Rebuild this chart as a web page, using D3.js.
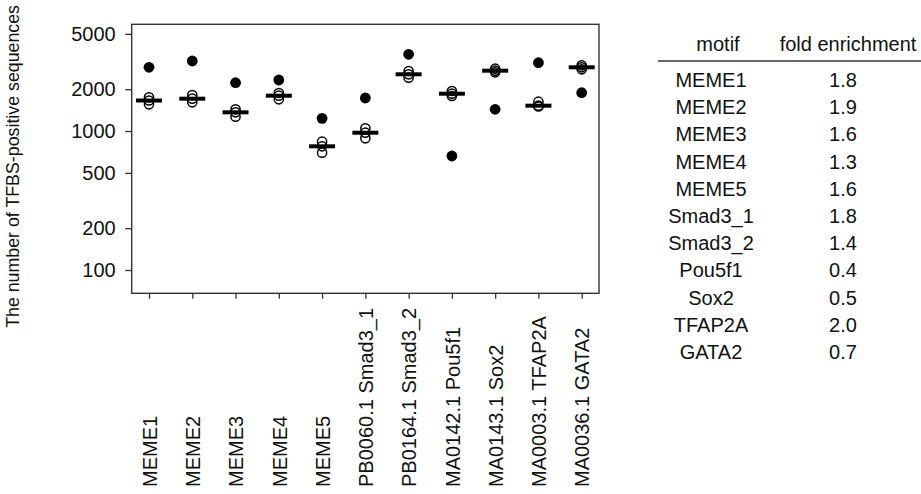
<!DOCTYPE html>
<html lang="en">
<head>
    <meta charset="UTF-8">
    <title>TFBS-positive sequences</title>
    <script src="https://d3js.org/d3.v7.min.js"></script>
    <style>
        html, body{
            margin:0;
            background:#fff;
        }
        text{
            font-family: Arial, "Liberation Sans", sans-serif;
            fill:#111;
        }
    </style>
</head>
<body>
<div id="chart"></div>

<script>
    // axis categories and short names used in the table
    var motifs = ["MEME1", "MEME2", "MEME3", "MEME4", "MEME5",
        "PB0060.1 Smad3_1", "PB0164.1 Smad3_2", "MA0142.1 Pou5f1",
        "MA0143.1 Sox2", "MA0003.1 TFAP2A", "MA0036.1 GATA2"];
    var shortNames = ["MEME1", "MEME2", "MEME3", "MEME4", "MEME5",
        "Smad3_1", "Smad3_2", "Pou5f1", "Sox2", "TFAP2A", "GATA2"];

    // filled dots: observed counts
    var observed = [2873, 3189, 2226, 2327, 1234, 1728, 3563, 661, 1433, 3100, 1886];
    // open circles: control counts (3 per motif)
    var controls = [
        [1748, 1657, 1556],
        [1816, 1708, 1609],
        [1433, 1363, 1267],
        [1877, 1795, 1691],
        [838, 776, 698],
        [1046, 972, 886],
        [2702, 2558, 2418],
        [1940, 1855, 1785],
        [2808, 2716, 2644],
        [1625, 1521, 1501],
        [2970, 2873, 2779]
    ];
    var foldEnrichment = ["1.8", "1.9", "1.6", "1.3", "1.6", "1.8", "1.4", "0.4", "0.5", "2.0", "0.7"];
    var yTicks = [100, 200, 500, 1000, 2000, 5000];

    var W = 921, H = 494;
    var plot = {left: 131.7, top: 24.3, width: 467.3, height: 269};
    var fontSize = "20px";

    var svg = d3.select("#chart").append("svg")
        .attr("width", W)
        .attr("height", H);

    var xScale = d3.scaleLinear()
        .domain([0.6, 11.4])
        .range([plot.left, plot.left + plot.width]);

    var yScale = d3.scaleLog()
        .domain([68, 5856])
        .range([plot.top + plot.height, plot.top]);

    // y axis
    var yAxis = svg.append("g")
        .attr("transform", "translate(" + plot.left + ",0)")
        .call(d3.axisLeft(yScale).tickValues(yTicks).tickFormat(d3.format("d")).tickSize(6.5).tickPadding(9.5));
    yAxis.select(".domain").remove();

    // x axis
    var xAxis = svg.append("g")
        .attr("transform", "translate(0," + (plot.top + plot.height) + ")")
        .call(d3.axisBottom(xScale).tickValues(d3.range(1, 12)).tickFormat("").tickSize(5.5));
    xAxis.select(".domain").remove();

    svg.selectAll(".tick line").attr("stroke", "#333").attr("stroke-width", 1.3);
    yAxis.selectAll("text").style("font-size", fontSize).attr("fill", "#111");

    // frame
    svg.append("rect")
        .attr("x", plot.left)
        .attr("y", plot.top)
        .attr("width", plot.width)
        .attr("height", plot.height)
        .attr("fill", "none")
        .attr("stroke", "#333")
        .attr("stroke-width", 1.4);

    // rotated category labels, aligned at the bottom
    svg.selectAll(".xlab")
        .data(motifs)
        .enter().append("text")
        .attr("class", "xlab")
        .attr("transform", function(d, i) { return "translate(" + (xScale(i + 1) + 0.5) + ",487) rotate(-90)"; })
        .attr("dy", "0.36em")
        .style("font-size", fontSize)
        .text(function(d) { return d; });

    // y title
    svg.append("text")
        .attr("transform", "translate(19,5) rotate(-90)")
        .attr("text-anchor", "end")
        .style("font-size", "17.8px")
        .text("The number of TFBS-positive sequences");

    // control circles
    var ctrlPts = [];
    controls.forEach(function(arr, i) {
        arr.forEach(function(v) { ctrlPts.push({i: i, v: v}); });
    });
    svg.selectAll(".ctrl")
        .data(ctrlPts)
        .enter().append("circle")
        .attr("class", "ctrl")
        .attr("cx", function(d) { return xScale(d.i + 1); })
        .attr("cy", function(d) { return yScale(d.v); })
        .attr("r", 4.6)
        .attr("fill", "none")
        .attr("stroke", "#000")
        .attr("stroke-width", 1.5);

    // median bars
    svg.selectAll(".med")
        .data(controls)
        .enter().append("line")
        .attr("class", "med")
        .attr("x1", function(d, i) { return xScale(i + 1) - 13; })
        .attr("x2", function(d, i) { return xScale(i + 1) + 13; })
        .attr("y1", function(d) { return yScale(d3.median(d)); })
        .attr("y2", function(d) { return yScale(d3.median(d)); })
        .attr("stroke", "#000")
        .attr("stroke-width", 4);

    // observed dots
    svg.selectAll(".obs")
        .data(observed)
        .enter().append("circle")
        .attr("class", "obs")
        .attr("cx", function(d, i) { return xScale(i + 1); })
        .attr("cy", function(d) { return yScale(d); })
        .attr("r", 5.4)
        .attr("fill", "#000");

    // table
    var colMotif = 711, colFold = 843, rowTop = 87, rowStep = 27.2;
    svg.append("text").attr("x", 718).attr("y", 51).attr("text-anchor", "middle")
        .style("font-size", fontSize).text("motif");
    svg.append("text").attr("x", 848).attr("y", 51).attr("text-anchor", "middle")
        .style("font-size", fontSize).text("fold enrichment");
    svg.append("line")
        .attr("x1", 658).attr("x2", 921)
        .attr("y1", 61).attr("y2", 61)
        .attr("stroke", "#333").attr("stroke-width", 1.3);

    svg.selectAll(".tname")
        .data(shortNames)
        .enter().append("text")
        .attr("x", colMotif)
        .attr("y", function(d, i) { return rowTop + i * rowStep; })
        .attr("text-anchor", "middle")
        .style("font-size", fontSize)
        .text(function(d) { return d; });

    svg.selectAll(".tfold")
        .data(foldEnrichment)
        .enter().append("text")
        .attr("x", colFold)
        .attr("y", function(d, i) { return rowTop + i * rowStep; })
        .attr("text-anchor", "middle")
        .style("font-size", fontSize)
        .text(function(d) { return d; });
</script>
</body>
</html>
